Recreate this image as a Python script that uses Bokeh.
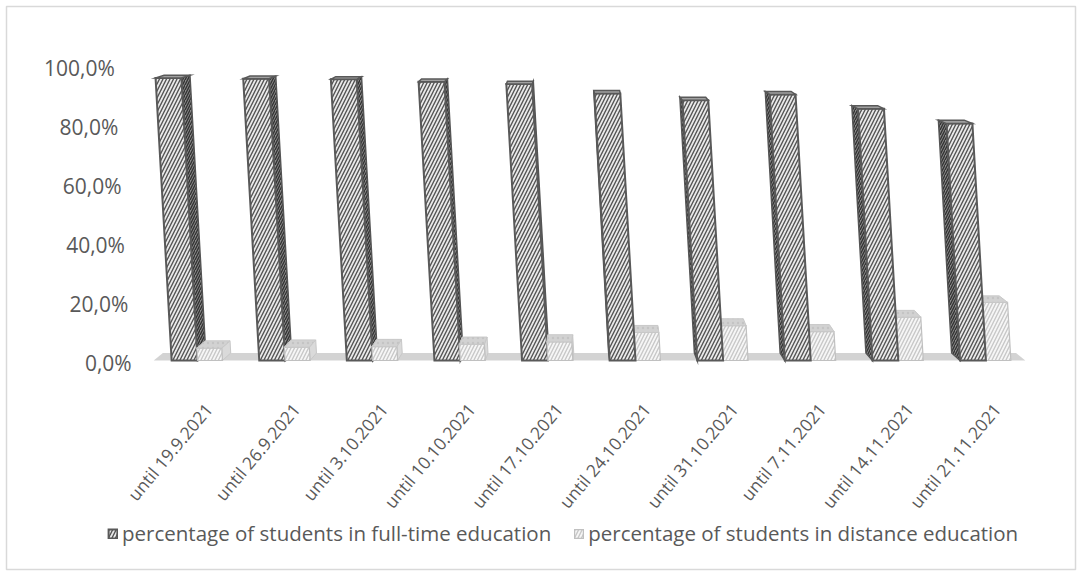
import math
from bokeh.plotting import figure
from bokeh.models import ColumnDataSource, Legend, LegendItem, Range1d
from bokeh.core.properties import value
from bokeh.embed import file_html
from bokeh.resources import INLINE

# ---- data -------------------------------------------------------------
categories = [
    "until 19.9.2021", "until 26.9.2021", "until 3.10.2021", "until 10.10.2021",
    "until 17.10.2021", "until 24.10.2021", "until 31.10.2021", "until 7.11.2021",
    "until 14.11.2021", "until 21.11.2021",
]
full_time = [0.958, 0.955, 0.953, 0.945, 0.937, 0.905, 0.882, 0.902, 0.853, 0.803]
distance = [0.042, 0.045, 0.047, 0.055, 0.063, 0.095, 0.118, 0.098, 0.147, 0.197]
y_ticks = [0.0, 0.2, 0.4, 0.6, 0.8, 1.0]
series_names = [
    "percentage of students in full-time education",
    "percentage of students in distance education",
]

# ---- layout (pixels) --------------------------------------------------
W, H = 1081, 575
INSET = 6            # chart-area border inset
ORIGIN_X = 153.2     # pixel x where the category axis starts
BASE_Y = 360         # pixel y of the 0 % level
CAT_PX = 87.6        # pixels per category
UNIT_PX = 295        # pixels per 100 %

frame_w, frame_h = W - 2 * INSET, H - 2 * INSET
x_start = (INSET - ORIGIN_X) / CAT_PX
x_end = x_start + frame_w / CAT_PX
y_end = (BASE_Y - INSET) / UNIT_PX
y_start = y_end - frame_h / UNIT_PX

# pseudo-3D look: slight lean, perspective side faces, depth of the tops
LEAN = 16.8 / CAT_PX          # horizontal shift per 100 % of height
VANISH = 5.2                  # category position where side faces vanish
SIDE_PX = 1.85                # side-face width per category of distance
DEPTH0_PX, DEPTH_SHRINK_PX = 7.5, 5.0
FT_W, DS_W = 0.295, 0.285

FONT = "Open Sans"
TEXT_COLOR = "#595959"


def lean(pts):
    return [x - LEAN * y for x, y in pts], [y for _, y in pts]


def depth(v):
    return (DEPTH0_PX - DEPTH_SHRINK_PX * v) / UNIT_PX


cols = {k: [] for k in ("xs", "ys", "fill", "hatch", "pattern", "line", "lw", "scale")}


def add(pts, fill, hatch, pattern, line, lw, scale=7):
    xs, ys = lean(pts)
    cols["xs"].append(xs)
    cols["ys"].append(ys)
    cols["fill"].append(fill)
    cols["hatch"].append(hatch)
    cols["pattern"].append(pattern)
    cols["line"].append(line)
    cols["lw"].append(lw)
    cols["scale"].append(scale)
    return len(cols["xs"]) - 1


# floor of the 3D plot area
n = len(categories)
fl_dx0 = SIDE_PX * (VANISH - 0) / CAT_PX
fl_dx1 = SIDE_PX * (VANISH - n) / CAT_PX
add([(0, 0), (n - 0.05, 0), (n - 0.05 + fl_dx1, depth(0)), (0 + fl_dx0, depth(0))],
    "#d3d3d3", "#d3d3d3", " ", None, 0)

FT_STYLE = dict(front=("#eaeaea", "#555555", "right_diagonal_line", "#595959", 2.0, 7),
                side=("#8a8a8a", "#333333", "right_diagonal_line", "#555555", 1.5, 5),
                top=("#a0a0a0", "#595959", " ", "#595959", 1.5, 7))
DS_STYLE = dict(front=("#f6f6f6", "#c8c8c8", "right_diagonal_line", "#c0c0c0", 1.2, 7),
                side=("#dadada", "#c4c4c4", " ", "#c8c8c8", 1.0, 7),
                top=("#d2d2d2", "#c4c4c4", ".", "#c8c8c8", 1.0, 5))

legend_idx = [None, None]


def bar(left, right, v, dx, style, right_side_only=False):
    d0, dv = depth(0), depth(v)
    faces = []
    if dx > 0:
        faces.append(("side", [(right, 0), (right + dx, d0), (right + dx, v + dv), (right, v)]))
    elif dx < 0 and not right_side_only:
        faces.append(("side", [(left, 0), (left + dx, d0), (left + dx, v + dv), (left, v)]))
    faces.append(("front", [(left, 0), (right, 0), (right, v), (left, v)]))
    faces.append(("top", [(left, v), (right, v), (right + dx, v + dv), (left + dx, v + dv)]))
    idx = {}
    for name, pts in faces:
        idx[name] = add(pts, *style[name])
    return idx["front"]


for i, (ft, ds) in enumerate(zip(full_time, distance)):
    c = i + 0.5
    dx = SIDE_PX * (VANISH - c) / CAT_PX
    if dx >= 0:
        f_idx = bar(c - FT_W, c, ft, dx, FT_STYLE)
        d_idx = bar(c, c + DS_W, ds, dx, DS_STYLE, right_side_only=True)
    else:
        d_idx = bar(c, c + DS_W, ds, dx, DS_STYLE, right_side_only=True)
        f_idx = bar(c - FT_W, c, ft, dx, FT_STYLE)
    if legend_idx[0] is None:
        legend_idx = [f_idx, d_idx]

p = figure(width=W, height=H, output_backend="svg", toolbar_location=None,
           x_range=Range1d(x_start, x_end), y_range=Range1d(y_start, y_end),
           min_border_left=INSET, min_border_right=INSET,
           min_border_top=INSET, min_border_bottom=INSET)
p.axis.visible = False
p.grid.visible = False
p.outline_line_color = "#d9d9d9"
p.outline_line_width = 1.5
p.background_fill_color = "white"
p.border_fill_color = "white"

src = ColumnDataSource(cols)
r = p.patches("xs", "ys", source=src, fill_color="fill", hatch_color="hatch",
              hatch_pattern="pattern", hatch_scale="scale", hatch_weight=1.4,
              line_color="line", line_width="lw", line_join="miter")

# value axis labels, following the lean of the chart
ytxt = ColumnDataSource(dict(
    x=[0 - LEAN * v for v in y_ticks],
    y=y_ticks,
    t=[f"{v * 100:.1f}%".replace(".", ",") for v in y_ticks],
))
p.text("x", "y", text="t", source=ytxt, x_offset=-22, y_offset=2, text_align="right",
       text_baseline="middle", text_font=value(FONT), text_font_size="21px",
       text_color=TEXT_COLOR)

# category labels, rotated
ctxt = ColumnDataSource(dict(x=[i + 0.5 for i in range(n)], y=[0] * n, t=categories))
p.text("x", "y", text="t", source=ctxt, angle=math.radians(50), x_offset=11, y_offset=45,
       text_align="right", text_baseline="middle", text_font=value(FONT),
       text_font_size="17.5px", text_color=TEXT_COLOR)

legend = Legend(items=[LegendItem(label=series_names[0], renderers=[r], index=legend_idx[0]),
                       LegendItem(label=series_names[1], renderers=[r], index=legend_idx[1])],
                orientation="horizontal", location=(101, 22))
legend.label_text_font = FONT
legend.label_text_font_size = "20.5px"
legend.label_text_color = TEXT_COLOR
legend.glyph_width = 11
legend.glyph_height = 11
legend.label_standoff = 4
legend.spacing = 22
legend.padding = 0
legend.margin = 0
legend.border_line_color = None
legend.background_fill_alpha = 0
p.add_layout(legend)

open("out.html", "w").write(file_html(p, INLINE))
